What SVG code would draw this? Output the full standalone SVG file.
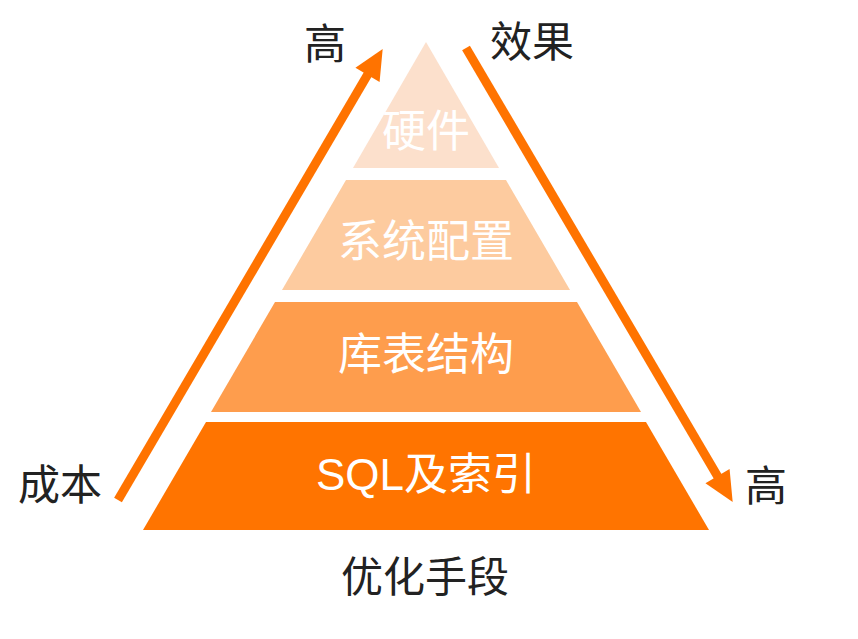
<svg xmlns="http://www.w3.org/2000/svg" width="858" height="639" viewBox="0 0 858 639">
<style>
.t{font-family:"Liberation Sans","Noto Sans CJK SC",sans-serif;text-anchor:middle;dominant-baseline:central}
.w{fill:#ffffff;font-size:44px}
.d{fill:#222222;font-size:42px}
.arr{stroke:#FF7300;stroke-width:9;fill:none}
</style>
<defs>
<marker id="ah" markerUnits="userSpaceOnUse" markerWidth="34" markerHeight="32" viewBox="-2 -16 34 32" refX="1" refY="0" orient="auto">
<path d="M0,-14 L30,0 L0,14 Z" fill="#FF7300"/>
</marker>
</defs>
<rect width="858" height="639" fill="#ffffff"/>
<g id="tier1">
<polygon points="426,42 499,168 353,168" fill="#FCE0CC"/>
<text class="t w" x="426" y="131">硬件</text>
</g>
<g id="tier2">
<polygon points="346,180 506,180 570,290 282,290" fill="#FDCB9F"/>
<text class="t w" x="426" y="241">系统配置</text>
</g>
<g id="tier3">
<polygon points="275,302 577,302 641,412 211,412" fill="#FE9D4D"/>
<text class="t w" x="426" y="354">库表结构</text>
</g>
<g id="tier4">
<polygon points="206,422 646,422 709,530 143,530" fill="#FF7400"/>
<text class="t w" x="426" y="474">SQL及索引</text>
</g>
<g id="connectors">
<line class="arr" x1="118" y1="500" x2="368" y2="74" marker-end="url(#ah)"/>
<line class="arr" x1="466" y1="48" x2="718" y2="477" marker-end="url(#ah)"/>
</g>
<g id="labels">
<text class="t d" x="325" y="44">高</text>
<text class="t d" x="532" y="42">效果</text>
<text class="t d" x="60" y="485">成本</text>
<text class="t d" x="766" y="486">高</text>
<text class="t d" x="425" y="577">优化手段</text>
</g>
</svg>
